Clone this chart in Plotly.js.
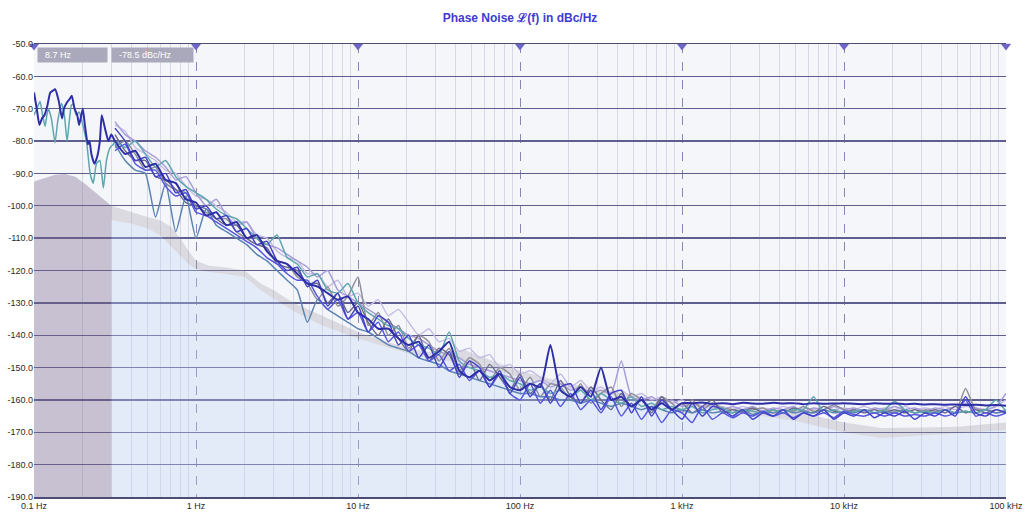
<!DOCTYPE html>
<html><head><meta charset="utf-8">
<script src="https://cdn.plot.ly/plotly-3.0.1.min.js"></script>
<style>html,body{margin:0;padding:0;background:#fff;}#chart{width:1024px;height:519px;}</style>
</head><body><div id="chart"></div>
<script>
// ---- axis ticks ----
const X_TICKS = [0.1, 1, 10, 100, 1000, 10000, 100000];
const X_LABELS = ['0.1 Hz', '1 Hz', '10 Hz', '100 Hz', '1 kHz', '10 kHz', '100 kHz'];
const Y_TICKS = [-190, -180, -170, -160, -150, -140, -130, -120, -110, -100, -90, -80, -70, -60, -50];
const Y_LABELS = ['-190.0', '-180.0', '-170.0', '-160.0', '-150.0', '-140.0', '-130.0', '-120.0', '-110.0', '-100.0', '-90.0', '-80.0', '-70.0', '-60.0', '-50.0'];
const MINOR_X = [0.2, 0.3, 0.4, 0.5, 0.6, 0.7, 0.8, 0.9,
  2, 3, 4, 5, 6, 7, 8, 9,
  20, 30, 40, 50, 60, 70, 80, 90,
  200, 300, 400, 500, 600, 700, 800, 900,
  2000, 3000, 4000, 5000, 6000, 7000, 8000, 9000,
  20000, 30000, 40000, 50000, 60000, 70000, 80000, 90000];

// ---- marker box texts ----
const CURSOR_FREQ = '8.7 Hz';
const CURSOR_LEVEL = '-78.5 dBc/Hz';

// ---- reference mask (grey band / shaded region) ----
const DARK_F = [0.1, 0.12, 0.135, 0.155, 0.18, 0.21, 0.24, 0.27, 0.3];
const DARK_TOP = [-92.5, -91.2, -90.4, -90.2, -91, -93.5, -96, -98.3, -100];
const MASK_F = [0.3, 0.4, 0.5, 0.6, 0.7, 0.8, 0.9, 1, 1.2, 1.5, 2, 2.5, 3, 4, 6, 10, 20, 30, 45, 60, 100, 200, 500, 1000, 2000, 5000, 10000, 17000, 30000, 50000, 100000];
const MASK_TOP = [-100, -102, -103.5, -104.5, -106.5, -110, -114, -117, -118.5, -119, -120, -124, -126, -130, -134, -139, -144, -145.5, -144.5, -147, -151, -155, -158.5, -161, -162.5, -163.5, -167, -168.7, -168.5, -168.3, -167];
const MASK_BOT = [-104.5, -105.5, -107, -109, -112.5, -115.5, -118, -119.5, -120.5, -121, -122, -126, -128.5, -132.5, -137, -141, -145.5, -147.5, -148.5, -149.5, -153, -156.5, -159.5, -161.5, -163.5, -166.5, -170, -171.8, -171, -170.3, -169.3];

// ---- measurement frequency grid (Hz) ----
const F = [0.3162, 0.3652, 0.4217, 0.487, 0.5623, 0.6494, 0.7499, 0.866,
  1, 1.155, 1.334, 1.54, 1.778, 2.054, 2.371, 2.738, 3.162, 3.652, 4.217, 4.87, 5.623, 6.494, 7.499, 8.66,
  10, 11.55, 13.34, 15.4, 17.78, 20.54, 23.71, 27.38, 31.62, 36.52, 42.17, 48.7, 56.23, 64.94, 74.99, 86.6,
  100, 115.5, 133.4, 154, 177.8, 205.4, 237.1, 273.8, 316.2, 365.2, 421.7, 487, 562.3, 649.4, 749.9, 866,
  1000, 1155, 1334, 1540, 1778, 2054, 2371, 2738, 3162, 3652, 4217, 4870, 5623, 6494, 7499, 8660,
  10000, 11550, 13340, 15400, 17780, 20540, 23710, 27380, 31620, 36520, 42170, 48700, 56230, 64940, 74990, 86600,
  100000];

// low-frequency part of the two traces that start at 0.1 Hz
const T1_LO_F = [0.1, 0.104, 0.108, 0.112, 0.116, 0.121, 0.126, 0.131, 0.135, 0.142, 0.149, 0.153, 0.16, 0.166, 0.171, 0.178, 0.185, 0.19, 0.2, 0.206, 0.215, 0.22, 0.226, 0.236, 0.245, 0.255, 0.262, 0.274, 0.288, 0.3];
const T1_LO_Y = [-65, -70, -75, -73, -72, -69, -65, -64.4, -64, -67.5, -73, -70, -68, -67, -66, -70, -72, -75, -70, -75, -81, -80, -84, -87, -85, -80, -72, -76, -80, -78];
const T2_LO_F = [0.1, 0.104, 0.109, 0.113, 0.117, 0.12, 0.1225, 0.128, 0.1348, 0.14, 0.148, 0.154, 0.16, 0.165, 0.17, 0.175, 0.182, 0.19, 0.2, 0.212, 0.222, 0.232, 0.243, 0.255, 0.268, 0.28, 0.295, 0.309];
const T2_LO_Y = [-72, -70, -67.8, -72, -75.4, -72, -70, -73, -80.5, -74, -68.4, -72, -80, -74, -69, -68.5, -72, -71, -75, -81, -90, -93, -87, -86, -94.5, -86, -82, -81];

// ---- measured traces, dBc/Hz at F ----
const T1 = [-80, -84, -83, -88, -87, -92, -93, -98, -99, -103,
  -102, -106, -105, -110, -109, -114, -117, -118, -121, -124,
  -125, -127, -129, -128, -133, -135, -138, -138, -141, -143,
  -142, -147, -145, -142, -151, -153, -151, -154, -152, -156,
  -157, -155, -156, -143, -157, -159, -156, -159, -150, -160,
  -159, -162, -160, -163, -161, -163, -161, -161, -160.8, -161.2,
  -161, -161.3, -160.9, -161.1, -161.2, -160.9, -161.1, -161, -161.3, -161,
  -161.2, -161.1, -161, -161.2, -161.3, -161, -161.2, -161.1, -161.3, -161.2,
  -161.4, -161.3, -161.5, -161.4, -161.6, -161.5, -161.7, -161.6, -161.8];
const T2 = [-80, -82, -80, -84, -88, -86, -91, -94, -96, -98,
  -101, -103, -104, -107, -110, -112, -109, -116, -118, -122,
  -121, -126, -127, -124, -130, -133, -135, -137, -138, -141,
  -143, -144, -146, -139, -148, -150, -151, -153, -152, -154,
  -155, -157, -156, -158, -157, -159, -157, -160, -158, -160,
  -161, -159, -162, -161, -163, -162, -163, -162, -164, -163,
  -162.5, -164, -163, -163.5, -164, -163, -164, -163, -163, -159,
  -164, -163, -164, -163.5, -163, -164, -163, -160.5, -163, -164,
  -163.5, -164, -163, -164, -163.5, -164, -163, -160, -163.5];
const T3 = [-76, -80, -86, -85, -91, -90, -96, -95, -101, -100,
  -104, -103, -108, -107, -112, -111, -117, -120, -119, -125,
  -123, -131, -127, -135, -131, -139, -134, -136, -143, -140,
  -147, -143, -150, -145, -153, -148, -150, -156, -151, -158,
  -153, -159, -155, -161, -156, -155, -161, -157, -163, -158,
  -157, -164, -159, -165, -160, -163, -166, -161, -165, -162,
  -163, -165, -163, -166, -164, -165, -163, -166, -164, -165,
  -163, -166, -164, -165, -163, -165.5, -164, -165, -163.5, -166,
  -164, -165, -163, -165, -159, -164, -165, -163, -164];
const T4 = [-74, -78, -80, -83, -85, -88, -92, -91, -96, -100,
  -98, -103, -106, -105, -110, -112, -113, -115, -117, -119,
  -122, -120, -126, -128, -130, -132, -134, -136, -138, -140,
  -141, -143, -145, -146, -147, -149, -150, -151, -152, -153,
  -154, -155, -154, -156, -155, -157, -156, -158, -157, -158,
  -148, -159, -160, -159, -161, -160, -162, -161, -162, -161.5,
  -163, -162, -163, -162, -163.5, -162.5, -163, -162, -163.5, -162.5,
  -163, -162, -163, -162.5, -163.5, -162.5, -163, -162, -163, -162.5,
  -163.5, -162.5, -163, -162, -161, -162.5, -163, -162, -158];
const T5 = [-82, -80, -84, -89, -88, -93, -95, -96, -100, -102,
  -104, -104, -108, -110, -110, -114, -117, -118, -122, -124,
  -129, -125, -131, -128, -122, -137, -133, -140, -137, -144,
  -140, -142, -148, -144, -151, -147, -149, -154, -150, -152,
  -157, -153, -159, -155, -156, -160, -155, -161, -158, -156,
  -162, -158, -160, -163, -159, -161, -164, -160, -163, -161,
  -162.5, -163, -164, -163, -162.5, -164, -163, -163.5, -162, -163.5,
  -163, -161.5, -163, -163.5, -163, -164, -163, -163.5, -163, -164,
  -163, -163.5, -163, -164, -156.5, -163, -163, -164, -163];
const T6 = [-81, -86, -89, -90, -103.5, -93, -108, -97, -110, -101,
  -106, -108, -110, -112, -115, -117, -120, -123, -126, -136,
  -129, -132, -134, -136, -138, -139, -141, -143, -144, -145,
  -147, -148, -149, -151, -152, -153, -154, -155, -156, -157,
  -158, -158, -159, -159, -160, -160, -161, -160, -161, -162,
  -161, -162, -163, -162, -163, -164, -163, -164, -163, -164,
  -163.5, -164, -163, -164.5, -163.5, -164, -163, -164, -163.5, -164,
  -163, -164, -163.5, -164, -163, -164, -163.5, -164, -163, -164,
  -163.5, -164, -163, -164, -163.5, -164, -163, -164, -163.5];
const T7 = [-75, -77, -82, -84, -86, -89, -90, -94, -97, -98,
  -100, -102, -105, -105, -109, -110, -114, -116, -117, -121,
  -121, -125, -123, -128, -127, -131, -129, -134, -132, -136,
  -140, -138, -142, -141, -145, -144, -147, -146, -150, -149,
  -152, -151, -153, -155, -152, -156, -154, -157, -156, -158,
  -157, -159, -158, -160, -159, -161, -160, -162, -161, -162.5,
  -162, -163, -162, -163, -162.5, -163, -162, -163, -162.5, -163,
  -162, -163, -162.5, -163, -162, -163, -162.5, -163, -162, -163,
  -162.5, -163, -162, -163, -162, -162.5, -163, -162, -160];
const T8 = [-78, -83, -86, -86, -91, -92, -95, -99, -100, -101,
  -104, -106, -106, -110, -112, -113, -118, -119, -120, -124,
  -124, -130, -127, -133, -130, -136, -140, -135, -141, -145,
  -140, -148, -144, -146, -152, -148, -154, -149, -153, -157,
  -152, -158, -155, -160, -154, -159, -161, -156, -160, -163,
  -158, -162, -160, -164, -159, -163, -161, -164, -162, -160,
  -164, -163, -163.5, -162.5, -164, -163, -164, -162.5, -163.5, -164,
  -162, -163.5, -164, -163, -164, -163, -164, -163, -164, -163,
  -164, -163, -164, -162, -164, -163, -164, -163, -164];
const T9 = [-83, -81, -87, -89, -89, -94, -97, -96, -102, -103,
  -105, -107, -109, -111, -113, -116, -118, -121, -123, -123,
  -128, -132, -129, -135, -133, -139, -136, -142, -139, -145,
  -143, -148, -146, -151, -149, -154, -151, -156, -152, -158,
  -160, -155, -161, -157, -162, -158, -163, -160, -164, -159,
  -165, -161, -166, -162, -167, -163, -164, -167, -162, -166,
  -164, -165.5, -164, -165, -163.5, -165, -164, -165.5, -164, -165,
  -164, -165.5, -163.5, -164.5, -165, -164, -165, -164, -165, -164.5,
  -165, -164, -165, -164, -160, -165, -164, -165, -164];

// ---- build ----
const series = [
  {y: T7, color: '#c3bbe5', w: 1.4},
  {y: T4, color: '#a89cd9', w: 1.5},
  {y: T5, color: '#8f8f99', w: 1.5},
  {y: T8, color: '#686886', w: 1.4},
  {y: T6, color: '#5a84b2', w: 1.5},
  {y: T2, color: '#5ea6ae', w: 1.5, loF: T2_LO_F, loY: T2_LO_Y},
  {y: T9, color: '#5656e2', w: 1.5},
  {y: T3, color: '#4242c8', w: 1.5},
  {y: T1, color: '#2e2ea6', w: 2, loF: T1_LO_F, loY: T1_LO_Y}
];
series.forEach(s => { if (s.y.length !== F.length) throw new Error('length mismatch ' + s.color + ' ' + s.y.length); });

const yMin = Y_TICKS[0], yMax = Y_TICKS[Y_TICKS.length - 1];
const traces = [];
// shaded low-frequency region
traces.push({x: [DARK_F[0], DARK_F[DARK_F.length - 1]], y: [yMin, yMin], mode: 'lines', line: {width: 0}, hoverinfo: 'skip'});
traces.push({x: DARK_F, y: DARK_TOP, mode: 'lines', line: {width: 0}, fill: 'tonexty', fillcolor: 'rgba(119,100,138,0.36)', hoverinfo: 'skip'});
// light blue area under the mask
traces.push({x: [MASK_F[0], MASK_F[MASK_F.length - 1]], y: [yMin, yMin], mode: 'lines', line: {width: 0}, hoverinfo: 'skip'});
traces.push({x: MASK_F, y: MASK_BOT, mode: 'lines', line: {width: 0}, fill: 'tonexty', fillcolor: 'rgba(186,210,243,0.32)', hoverinfo: 'skip'});
// grey mask band
traces.push({x: MASK_F, y: MASK_TOP, mode: 'lines', line: {width: 0}, fill: 'tonexty', fillcolor: 'rgba(150,148,160,0.28)', hoverinfo: 'skip'});

series.forEach(s => {
  const x = s.loF ? s.loF.concat(F) : F;
  const y = s.loY ? s.loY.concat(s.y) : s.y;
  traces.push({x: x, y: y, mode: 'lines', line: {color: s.color, width: s.w, shape: 'spline', smoothing: 0.5}, hoverinfo: 'skip'});
});

// decade markers on top border
traces.push({x: X_TICKS, y: X_TICKS.map(() => yMax - 0.6), mode: 'markers', marker: {symbol: 'triangle-down', size: 9, color: '#6e66c6'}, cliponaxis: false, hoverinfo: 'skip'});

const tickFont = {family: 'Liberation Sans, Arial, sans-serif', size: 9, color: '#2a2a2a'};
const layout = {
  width: 1024, height: 519,
  margin: {l: 34, r: 18, t: 44, b: 22, pad: 0},
  paper_bgcolor: '#ffffff', plot_bgcolor: '#f5f6fa',
  showlegend: false,
  font: {family: 'Liberation Sans, Arial, sans-serif'},
  title: {text: '<b>Phase Noise ℒ(f) in dBc/Hz</b>', font: {family: 'Liberation Sans, Arial, sans-serif', size: 12, color: '#3c3cd0'},
          x: 0.5, xref: 'paper', xanchor: 'center', y: 1 - 18 / 519, yref: 'container', yanchor: 'middle'},
  xaxis: {type: 'log', range: [Math.log10(X_TICKS[0]), Math.log10(X_TICKS[X_TICKS.length - 1])],
          tickmode: 'array', tickvals: X_TICKS, ticktext: X_LABELS, ticks: '', tickfont: tickFont,
          showgrid: true, gridcolor: '#8888b6', griddash: 'dash', gridwidth: 1,
          minor: {tickmode: 'array', tickvals: MINOR_X, showgrid: true, gridcolor: '#d8d9e7', gridwidth: 1, griddash: 'solid', ticks: ''},
          showline: true, mirror: true, linecolor: '#4c4c74', linewidth: 1.5, zeroline: false, fixedrange: true},
  yaxis: {range: [yMin, yMax], tickmode: 'array', tickvals: Y_TICKS, ticktext: Y_LABELS, ticks: '', tickfont: tickFont,
          showgrid: true, gridcolor: '#5f5f8f', gridwidth: 1.3, showline: false, zeroline: false, fixedrange: true},
  annotations: [
    {xref: 'paper', yref: 'paper', x: 3 / 972, y: 450 / 453, xanchor: 'left', yanchor: 'top', showarrow: false,
     text: '&nbsp;&nbsp;' + CURSOR_FREQ, align: 'left', width: 65, height: 10, borderpad: 2, bgcolor: '#a9a9bb',
     font: {family: 'Liberation Sans, Arial, sans-serif', size: 9, color: '#ffffff'}},
    {xref: 'paper', yref: 'paper', x: 77 / 972, y: 450 / 453, xanchor: 'left', yanchor: 'top', showarrow: false,
     text: '&nbsp;&nbsp;' + CURSOR_LEVEL, align: 'left', width: 77, height: 10, borderpad: 2, bgcolor: '#a9a9bb',
     font: {family: 'Liberation Sans, Arial, sans-serif', size: 9, color: '#ffffff'}}
  ]
};
Plotly.newPlot('chart', traces, layout, {displayModeBar: false, staticPlot: true});
</script>
</body></html>
